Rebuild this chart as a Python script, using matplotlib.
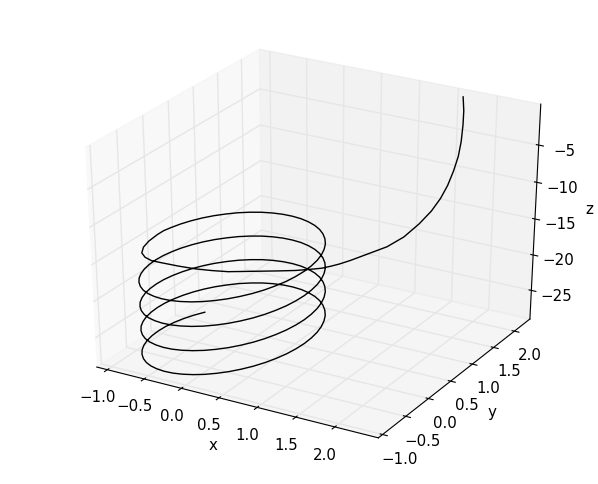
import matplotlib
matplotlib.use('Agg')
import matplotlib.pyplot as plt

# falling part of the path
x_fall = [1.592, 1.604, 1.605, 1.625, 1.66, 1.695, 1.736, 1.769, 1.793, 1.798, 1.783, 1.736, 1.666, 1.597, 1.55,
          1.491, 1.425, 1.352, 1.23, 1.10, 0.93, 0.762, 0.59, 0.419, 0.23, 0.038, -0.175, -0.391,
          -0.52, -0.64, -0.745, -0.825, -0.875, -0.90, -0.905]
y_fall = [2.332, 2.336, 2.327, 2.26, 2.139, 1.974, 1.771, 1.556, 1.309, 1.029, 0.72, 0.435, 0.262, 0.088, -0.04,
          -0.173, -0.24, -0.305, -0.375, -0.442, -0.525, -0.602, -0.672, -0.734, -0.772, -0.799, -0.82, -0.83,
          -0.83, -0.78, -0.69, -0.54, -0.36, -0.15, -0.02]
z_fall = [-0.4, -2.24, -4.08, -6.02, -7.46, -8.7, -9.75, -10.54, -11.18, -11.72, -12.2, -12.4, -12.5, -12.58, -12.62,
          -12.65, -12.8, -12.95, -13.1, -13.25, -13.35, -13.45, -13.6, -13.75, -13.88, -14.0, -14.03, -14.05,
          -14.08, -14.12, -14.17, -14.22, -14.28, -14.33, -14.38]

# the coil, four and a bit turns
x_coil = [-0.887, -0.857, -0.812, -0.754, -0.682, -0.597, -0.504, -0.401, -0.292, -0.178, -0.060, 0.057,
          0.175, 0.289, 0.398, 0.501, 0.594, 0.678, 0.751, 0.810, 0.856, 0.887, 0.902, 0.903,
          0.887, 0.857, 0.812, 0.754, 0.682, 0.597, 0.504, 0.401, 0.292, 0.178, 0.060, -0.057,
          -0.175, -0.289, -0.398, -0.501, -0.594, -0.678, -0.751, -0.810, -0.856, -0.887, -0.902, -0.903,
          -0.887, -0.857, -0.812, -0.754, -0.682, -0.597, -0.504, -0.401, -0.292, -0.178, -0.060, 0.057,
          0.175, 0.289, 0.398, 0.501, 0.594, 0.678, 0.751, 0.810, 0.856, 0.887, 0.902, 0.903,
          0.887, 0.857, 0.812, 0.754, 0.682, 0.597, 0.504, 0.401, 0.292, 0.178, 0.060, -0.057,
          -0.175, -0.289, -0.398, -0.501, -0.594, -0.678, -0.751, -0.810, -0.856, -0.887, -0.902, -0.903,
          -0.887, -0.857, -0.812, -0.754, -0.682, -0.597, -0.504, -0.401, -0.292, -0.178, -0.060, 0.057,
          0.175, 0.289, 0.398, 0.501, 0.594, 0.678, 0.751, 0.810, 0.856, 0.887, 0.902, 0.903,
          0.887, 0.857, 0.812, 0.754, 0.682, 0.597, 0.504, 0.401, 0.292, 0.178, 0.060, -0.057,
          -0.175, -0.289, -0.398, -0.501, -0.594, -0.678, -0.751, -0.810, -0.856, -0.887, -0.902, -0.903,
          -0.887, -0.857, -0.812, -0.754, -0.682, -0.597, -0.504, -0.401, -0.292, -0.178, -0.060, 0.057,
          0.175, 0.289, 0.398, 0.501, 0.594, 0.678, 0.751, 0.810, 0.856, 0.887, 0.902, 0.903,
          0.887, 0.857, 0.812, 0.754, 0.682, 0.597, 0.504, 0.401, 0.292, 0.178, 0.060, -0.057,
          -0.175, -0.289, -0.398, -0.501, -0.594, -0.678, -0.751, -0.810, -0.856, -0.887, -0.902, -0.903,
          -0.887, -0.857, -0.812, -0.754]
y_coil = [0.097, 0.247, 0.394, 0.533, 0.664, 0.783, 0.889, 0.979, 1.054, 1.109, 1.146, 1.163,
          1.161, 1.137, 1.096, 1.035, 0.956, 0.861, 0.752, 0.629, 0.496, 0.355, 0.206, 0.055,
          -0.097, -0.247, -0.394, -0.533, -0.664, -0.783, -0.889, -0.979, -1.054, -1.109, -1.146, -1.163,
          -1.161, -1.137, -1.096, -1.035, -0.956, -0.861, -0.752, -0.629, -0.496, -0.355, -0.206, -0.055,
          0.097, 0.247, 0.394, 0.533, 0.664, 0.783, 0.889, 0.979, 1.054, 1.109, 1.146, 1.163,
          1.161, 1.137, 1.096, 1.035, 0.956, 0.861, 0.752, 0.629, 0.496, 0.355, 0.206, 0.055,
          -0.097, -0.247, -0.394, -0.533, -0.664, -0.783, -0.889, -0.979, -1.054, -1.109, -1.146, -1.163,
          -1.161, -1.137, -1.096, -1.035, -0.956, -0.861, -0.752, -0.629, -0.496, -0.355, -0.206, -0.055,
          0.097, 0.247, 0.394, 0.533, 0.664, 0.783, 0.889, 0.979, 1.054, 1.109, 1.146, 1.163,
          1.161, 1.137, 1.096, 1.035, 0.956, 0.861, 0.752, 0.629, 0.496, 0.355, 0.206, 0.055,
          -0.097, -0.247, -0.394, -0.533, -0.664, -0.783, -0.889, -0.979, -1.054, -1.109, -1.146, -1.163,
          -1.161, -1.137, -1.096, -1.035, -0.956, -0.861, -0.752, -0.629, -0.496, -0.355, -0.206, -0.055,
          0.097, 0.247, 0.394, 0.533, 0.664, 0.783, 0.889, 0.979, 1.054, 1.109, 1.146, 1.163,
          1.161, 1.137, 1.096, 1.035, 0.956, 0.861, 0.752, 0.629, 0.496, 0.355, 0.206, 0.055,
          -0.097, -0.247, -0.394, -0.533, -0.664, -0.783, -0.889, -0.979, -1.054, -1.109, -1.146, -1.163,
          -1.161, -1.137, -1.096, -1.035, -0.956, -0.861, -0.752, -0.629, -0.496, -0.355, -0.206, -0.055,
          0.097, 0.247, 0.394, 0.533]
z_coil = [-14.42, -14.49, -14.56, -14.63, -14.70, -14.77, -14.83, -14.90, -14.97, -15.04, -15.11, -15.18,
          -15.25, -15.32, -15.39, -15.46, -15.52, -15.59, -15.66, -15.73, -15.80, -15.87, -15.94, -16.01,
          -16.08, -16.15, -16.21, -16.28, -16.35, -16.42, -16.49, -16.56, -16.63, -16.70, -16.77, -16.84,
          -16.90, -16.97, -17.04, -17.11, -17.18, -17.25, -17.32, -17.39, -17.46, -17.53, -17.59, -17.66,
          -17.73, -17.80, -17.87, -17.94, -18.01, -18.08, -18.14, -18.21, -18.28, -18.35, -18.42, -18.49,
          -18.56, -18.63, -18.70, -18.77, -18.83, -18.90, -18.97, -19.04, -19.11, -19.18, -19.25, -19.32,
          -19.39, -19.46, -19.52, -19.59, -19.66, -19.73, -19.80, -19.87, -19.94, -20.01, -20.08, -20.15,
          -20.21, -20.28, -20.35, -20.42, -20.49, -20.56, -20.63, -20.70, -20.77, -20.84, -20.90, -20.97,
          -21.04, -21.11, -21.18, -21.25, -21.32, -21.39, -21.45, -21.52, -21.59, -21.66, -21.73, -21.80,
          -21.87, -21.94, -22.01, -22.08, -22.14, -22.21, -22.28, -22.35, -22.42, -22.49, -22.56, -22.63,
          -22.70, -22.77, -22.83, -22.90, -22.97, -23.04, -23.11, -23.18, -23.25, -23.32, -23.39, -23.46,
          -23.52, -23.59, -23.66, -23.73, -23.80, -23.87, -23.94, -24.01, -24.08, -24.15, -24.21, -24.28,
          -24.35, -24.42, -24.49, -24.56, -24.63, -24.70, -24.76, -24.83, -24.90, -24.97, -25.04, -25.11,
          -25.18, -25.25, -25.32, -25.39, -25.45, -25.52, -25.59, -25.66, -25.73, -25.80, -25.87, -25.94,
          -26.01, -26.08, -26.14, -26.21, -26.28, -26.35, -26.42, -26.49, -26.56, -26.63, -26.70, -26.77,
          -26.83, -26.90, -26.97, -27.04, -27.11, -27.18, -27.25, -27.32, -27.39, -27.46, -27.52, -27.59,
          -27.66, -27.73, -27.80, -27.87]

x_ticks = [-1.0, -0.5, 0.0, 0.5, 1.0, 1.5, 2.0]
y_ticks = [-1.0, -0.5, 0.0, 0.5, 1.0, 1.5, 2.0]
z_ticks = [-25, -20, -15, -10, -5]

fig = plt.figure(figsize=(5.98, 4.85), dpi=100)
ax = fig.add_axes([11.7 / 598, 12 / 485, 594 / 598, 458 / 485], projection='3d')
# old style: the cube fills the axes box, so it gets stretched sideways
ax.set_box_aspect((1, 1, 1), zoom=0.92)
ax.apply_aspect = lambda position=None: None
ax.plot(x_fall + x_coil, y_fall + y_coil, z_fall + z_coil, color='black', linewidth=1)

ax.set_xlim(-1.145, 2.55)
ax.set_ylim(-1.09, 2.38)
ax.set_zlim(-29.1, 0.4)
ax.set_xticks(x_ticks)
ax.set_yticks(y_ticks)
ax.set_zticks(z_ticks)
ax.set_xlabel('x', fontsize=10.8)
ax.set_ylabel('y', fontsize=10.8)
ax.set_zlabel('z', fontsize=10.8)
ax.tick_params(labelsize=10.8)

for axis in [ax.xaxis, ax.yaxis, ax.zaxis]:
    axis._axinfo['grid'].update(color=(0.9, 0.9, 0.9, 1), linewidth=1)
    axis._axinfo['tick'].update(inward_factor=0.2, outward_factor=0.1)

plt.savefig('out.png', dpi=100)
